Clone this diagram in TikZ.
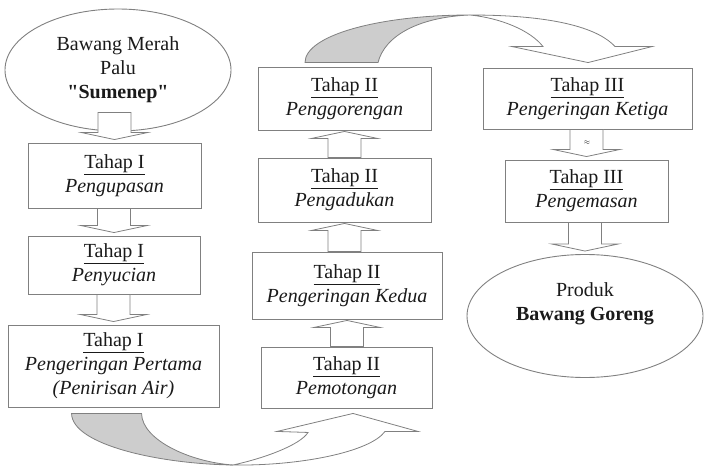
\documentclass[tikz,border=0pt]{standalone}
\usepackage{fontspec}
\setmainfont{Liberation Serif}[Ligatures=TeXOff]
\usetikzlibrary{shapes.geometric,calc}
\definecolor{linegray}{HTML}{808080}
\definecolor{bandgray}{HTML}{CDCDCD}
\definecolor{txt}{HTML}{1A1A1A}
\newcommand\fs{\fontsize{20}{24}\selectfont}
\newcommand\arrdown[3]{%
  \path[barrow] let \p1=(#1.south), \p2=(#2.north) in
  ({\x2-16.5pt},{\y1+#3}) -- ({\x2-16.5pt},{\y2+10pt}) -- ({\x2-33pt},{\y2+10pt}) --
  (\x2,{\y2+3pt}) -- ({\x2+33pt},{\y2+10pt}) -- ({\x2+16.5pt},{\y2+10pt}) --
  ({\x2+16.5pt},{\y1+#3}) -- cycle;}
\newcommand\arrup[2]{%
  \path[barrow] let \p1=(#1.north), \p2=(#2.south) in
  ({\x2-16.5pt},\y1) -- ({\x2-16.5pt},{\y2-8pt}) -- ({\x2-33pt},{\y2-8pt}) --
  (\x2,{\y2-1pt}) -- ({\x2+33pt},{\y2-8pt}) -- ({\x2+16.5pt},{\y2-8pt}) --
  ({\x2+16.5pt},\y1) -- cycle;}
\begin{document}
\begin{tikzpicture}[x=1pt,y=-1pt,
  box/.style={draw=linegray, line width=0.9pt, fill=white, align=center, inner sep=0pt, font=\fs, text=txt},
  oval/.style={ellipse, draw=linegray, line width=0.9pt, fill=white, align=center, inner sep=0pt, font=\fs, text=txt},
  barrow/.style={draw=linegray, fill=white, line width=0.8pt, line join=miter},
  band/.style={draw=linegray, fill=bandgray, line width=0.8pt},
  wband/.style={draw=linegray, fill=white, line width=0.8pt, line join=miter}]
\useasboundingbox (0,0) rectangle (704,468);
% left column
\node[oval, minimum width=226pt, minimum height=122pt] (e1) at (118,70)
  {Bawang Merah\\Palu\\\textbf{"Sumenep"}};
\node[box, minimum width=173pt, minimum height=65pt] (b1) at (114.5,175.5)
  {\underline{Tahap I}\\\textit{Pengupasan}};
\node[box, minimum width=172pt, minimum height=58pt] (b2) at (114,265)
  {\underline{Tahap I}\\\textit{Penyucian}};
\node[box, minimum width=211pt, minimum height=82pt] (b3) at (113.5,366)
  {\underline{Tahap I}\\\textit{Pengeringan Pertama}\\\textit{(Penirisan Air)}};
% middle column
\node[box, minimum width=173pt, minimum height=63pt] (m1) at (344.5,98.5)
  {\underline{Tahap II}\\\textit{Penggorengan}};
\node[box, minimum width=173pt, minimum height=64pt] (m2) at (344.5,190)
  {\underline{Tahap II}\\\textit{Pengadukan}};
\node[box, minimum width=190pt, minimum height=67pt] (m3) at (347,285.5)
  {\underline{Tahap II}\\\textit{Pengeringan Kedua}};
\node[box, minimum width=171pt, minimum height=61pt] (m4) at (346.5,377.5)
  {\underline{Tahap II}\\\textit{Pemotongan}};
% right column
\node[box, minimum width=209pt, minimum height=61pt] (r1) at (587.5,98.5)
  {\underline{Tahap III}\\\textit{Pengeringan Ketiga}};
\node[box, minimum width=163pt, minimum height=62pt] (r2) at (586.5,191)
  {\underline{Tahap III}\\\textit{Pengemasan}};
\node[oval, minimum width=236pt, minimum height=123pt] (e2) at (585,316) {};
\node[align=center, font=\fs, text=txt, inner sep=0pt] (e2t) at ($(e2.center)+(0,-12)$)
  {Produk\\\textbf{Bawang Goreng}};
% straight block arrows
\arrdown{e1}{b1}{19pt}
\arrdown{b1}{b2}{0pt}
\arrdown{b2}{b3}{0pt}
\arrup{m4}{m3}
\arrup{m3}{m2}
\arrup{m2}{m1}
\arrdown{r1}{r2}{0pt}
\arrdown{r2}{e2}{0pt}
\node[inner sep=0pt, font=\fontsize{7}{7}\selectfont, text=txt] (sq) at ($(r1.south)!0.45!(r2.north)$) {$\approx$};
% curved arrow: Tahap I -> Pemotongan
\coordinate (c1a) at ($(b3.south west)+(64,6)$);
\coordinate (c1b) at ($(b3.south west)+(134,6)$);
\coordinate (c1m) at (233,465);
\coordinate (h1n1) at ($(m4.south)+(-38.5,24)$);
\coordinate (h1w1) at ($(m4.south)+(-69.5,23)$);
\coordinate (h1t)  at ($(m4.south)+(6.5,5)$);
\coordinate (h1w2) at ($(m4.south)+(71.5,23)$);
\coordinate (h1n2) at ($(m4.south)+(38.5,23)$);
\path[band] (c1a) -- (c1b) .. controls (142,440) and (190,462) .. (c1m)
  .. controls (160,464) and (72,445) .. (c1a) -- cycle;
\path[wband] (c1m) .. controls (265,458) and (300,445) .. (h1n1) -- (h1w1) -- (h1t)
  -- (h1w2) -- (h1n2) .. controls (370,452) and (300,466) .. (c1m) -- cycle;
% curved arrow: Penggorengan -> Tahap III
\coordinate (c2a) at ($(m1.north)+(-39.5,-4)$);
\coordinate (c2b) at ($(m1.north)+(33.5,-4)$);
\coordinate (c2m) at (470,15);
\coordinate (h2n1) at ($(r1.north)+(-44.5,-21)$);
\coordinate (h2w1) at ($(r1.north)+(-75.5,-21)$);
\coordinate (h2t)  at ($(r1.north)+(0.5,-5)$);
\coordinate (h2w2) at ($(r1.north)+(64.5,-21)$);
\coordinate (h2n2) at ($(r1.north)+(27.5,-21)$);
\path[band] (c2a) .. controls (305,35) and (380,15) .. (c2m)
  .. controls (420,17) and (385,35) .. (c2b) -- cycle;
\path[wband] (c2m) .. controls (560,15) and (600,30) .. (h2n2) -- (h2w2) -- (h2t)
  -- (h2w1) -- (h2n1) .. controls (530,30) and (500,18) .. (c2m) -- cycle;
\end{tikzpicture}
\end{document}
